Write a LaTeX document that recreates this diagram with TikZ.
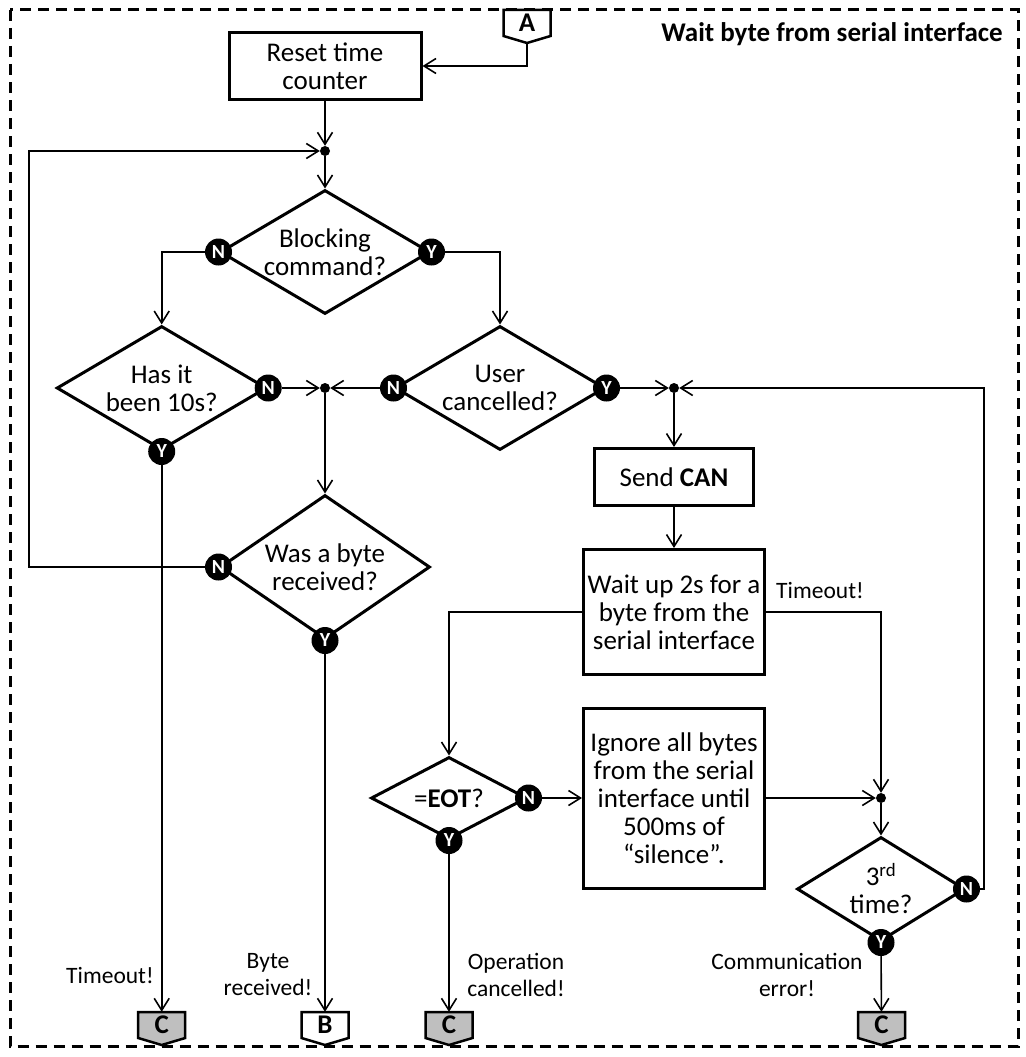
\documentclass[tikz,border=0pt]{standalone}
\usepackage{fontspec}
\setmainfont{Carlito}
\usetikzlibrary{arrows.meta,shapes.geometric,calc}
\definecolor{cgray}{RGB}{191,191,191}
\newcommand\offpg[4]{%
  \draw[line width=2.5pt,fill=#3,line join=miter] ($#2+(-23.5,-13)$) -- ($#2+(23.5,-13)$) -- ($#2+(23.5,13)$) -- ($#2+(0,20)$) -- ($#2+(-23.5,13)$) -- cycle;
  \node[offp] (#1) at #2 {#4};
}
\begin{document}
\begin{tikzpicture}[x=1pt,y=-1pt,
  every node/.style={font=\fontsize{27}{28}\selectfont},
  box/.style={draw,line width=3pt,align=center,inner sep=0pt},
  dia/.style={draw,diamond,line width=3pt,inner sep=0pt,minimum width=210pt,minimum height=124pt},
  dtext/.style={align=center,inner sep=0pt,font=\fontsize{27}{28}\selectfont},
  yn/.style={circle,fill=black,text=white,inner sep=0pt,minimum size=27pt,font=\fontsize{20}{20}\selectfont\bfseries},
  dot/.style={circle,fill=black,inner sep=0pt,minimum size=10pt},
  arr/.style={line width=1.6pt,-{Straight Barb[length=12pt,width=15pt,line width=1.6pt]}},
  lbl/.style={align=center,inner sep=0pt,font=\fontsize{23.5}{27}\selectfont},
  offp/.style={minimum width=47pt,minimum height=26pt,inner sep=0pt,font=\fontsize{27}{27}\selectfont\bfseries},
]
\useasboundingbox (0,0) rectangle (1025,1057);
\draw[line width=3pt,dash pattern=on 11pt off 7pt] (10,10) rectangle (1018,1046.5);
\node[anchor=base east,inner sep=0pt,font=\fontsize{27}{28}\selectfont\bfseries] (title) at (1003,42) {Wait byte from serial interface};

% off-page connectors
\offpg{A}{(527,23)}{white}{A}
\offpg{C1}{(161.7,1025)}{cgray}{C}
\offpg{B}{(325,1025)}{white}{B}
\offpg{C2}{(449,1025)}{cgray}{C}
\offpg{C3}{(881.5,1025)}{cgray}{C}
\coordinate (Atip) at (527,43);

% process boxes
\node[box,minimum width=192pt,minimum height=67pt] (reset) at (325,66) {Reset time\\counter};
\node[box,minimum width=159pt,minimum height=57pt] (can) at (674,477) {Send \textbf{CAN}};
\node[box,minimum width=181pt,minimum height=125pt] (wait) at (674,612) {Wait up 2s for a\\byte from the\\serial interface};
\node[box,minimum width=181pt,minimum height=180pt] (ign) at (674,798) {Ignore all bytes\\from the serial\\interface until\\500ms of\\“silence”.};

% decisions
\node[dia,label={[dtext]center:Blocking\\command?}] (blk) at (325,252) {};
\node[dia,label={[dtext]center:Has it\\been 10s?}] (has) at (161.7,388) {};
\node[dia,label={[dtext]center:User\\cancelled?}] (usr) at (500,388) {};
\node[dia,minimum height=144pt,label={[dtext]center:Was a byte\\received?}] (was) at (325,567) {};
\node[dia,minimum width=156pt,minimum height=82pt,label={[dtext]center:=\textbf{EOT}?}] (eot) at (449,798) {};
\node[dia,minimum width=168pt,minimum height=104pt,label={[dtext]center:3\textsuperscript{rd}\\time?}] (thr) at (881,889) {};

% junction dots
\node[dot] (d1) at (325,151) {};
\node[dot] (d2) at (325,388) {};
\node[dot] (d3) at (674,388) {};
\node[dot] (d4) at (881,798) {};

% yes / no markers
\node[yn] (blkN) at (blk.west) {N};
\node[yn] (blkY) at (blk.east) {Y};
\node[yn] (hasN) at (has.east) {N};
\node[yn] (hasY) at (has.south) {Y};
\node[yn] (usrN) at (usr.west) {N};
\node[yn] (usrY) at (usr.east) {Y};
\node[yn] (wasN) at (was.west) {N};
\node[yn] (wasY) at (was.south) {Y};
\node[yn] (eotN) at (eot.east) {N};
\node[yn] (eotY) at (eot.south) {Y};
\node[yn] (thrN) at (thr.east) {N};
\node[yn] (thrY) at (thr.south) {Y};

\coordinate (loopL) at (29,0);
\coordinate (loopR) at (984,0);

% labels
\node[lbl] (lt1) at (110,975) {Timeout!};
\node[lbl] (lb) at (268,975) {Byte\\received!};
\node[lbl] (lop) at (516,975) {Operation\\cancelled!};
\node[lbl] (lce) at (787,975) {Communication\\error!};
\node[lbl] (lt2) at (820,590) {Timeout!};

% connectors
\draw[arr] (Atip) |- (reset.east);
\draw[arr] (reset) -- (d1);
\draw[arr] (d1) -- (blk.north);
\draw[arr] (blkN) -| (has.north);
\draw[arr] (blkY) -| (usr.north);
\draw[arr] (hasN) -- (d2);
\draw[arr] (usrN) -- (d2);
\draw[arr] (d2) -- (was.north);
\draw[arr] (wasN) -- (wasN -| loopL) |- (d1);
\draw[arr] (hasY) -- (C1);
\draw[arr] (wasY) -- (B);
\draw[arr] (usrY) -- (d3);
\draw[arr] (d3) -- (can);
\draw[arr] (can) -- (wait);
\draw[arr] (wait.west) -| (eot.north);
\draw[arr] (wait.east) -| (d4);
\draw[arr] (eotN) -- (ign);
\draw[arr] (ign) -- (d4);
\draw[arr] (d4) -- (thr.north);
\draw[arr] (thrN) -- (thrN -| loopR) |- (d3);
\draw[arr] (eotY) -- (C2);
\draw[arr] (thrY) -- (C3);
\end{tikzpicture}
\end{document}
